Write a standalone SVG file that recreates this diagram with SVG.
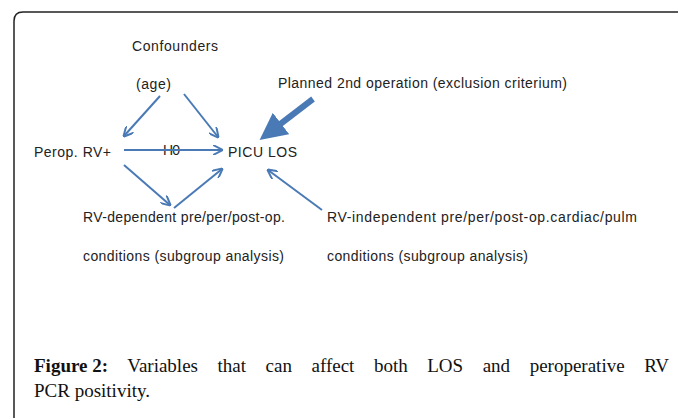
<svg xmlns="http://www.w3.org/2000/svg" width="678" height="418" viewBox="0 0 678 418">
<style>
.t{font-family:"Liberation Sans",Arial,sans-serif;font-size:14px;fill:#222}
.c{font-family:"Liberation Serif","Times New Roman",serif;font-size:19px;fill:#111}
.a{stroke:#4a7ab5;stroke-width:2;fill:none;marker-end:url(#ah)}
</style>
<defs>
<marker id="ah" viewBox="0 0 10 10" refX="9" refY="5" markerWidth="5" markerHeight="5" orient="auto" markerUnits="strokeWidth">
<path d="M0,0 L10,5 L0,10" fill="none" stroke="#4a7ab5" stroke-width="2"/>
</marker>
<marker id="ahT" viewBox="0 0 10 10" refX="7" refY="5" markerWidth="4.5" markerHeight="4.5" orient="auto" markerUnits="strokeWidth">
<path d="M0,0 L10,5 L0,10 Z" fill="#4a7ab5"/>
</marker>
</defs>
<rect width="678" height="418" fill="#fff"/>
<path d="M14,418 L14,21 Q14,12 23,12 L678,12" fill="none" stroke="#222" stroke-width="1.5"/>
<g id="confounders"><text class="t" x="132" y="51" textLength="86">Confounders</text><text class="t" x="136" y="89" textLength="35">(age)</text></g>
<g id="planned"><text class="t" x="278" y="88" textLength="289">Planned 2nd operation (exclusion criterium)</text></g>
<g id="perop"><text class="t" x="34" y="157" textLength="77">Perop. RV+</text></g>
<g id="picu"><text class="t" x="228" y="157" textLength="69">PICU LOS</text></g>
<g id="rvdep"><text class="t" x="83" y="222" textLength="202">RV-dependent pre/per/post-op.</text><text class="t" x="83" y="261" textLength="201">conditions (subgroup analysis)</text></g>
<g id="rvindep"><text class="t" x="327" y="222" textLength="310">RV-independent pre/per/post-op.cardiac/pulm</text><text class="t" x="327" y="261" textLength="201">conditions (subgroup analysis)</text></g>
<g id="h0"><text class="t" x="163" y="155" textLength="17">H0</text></g>
<g id="connectors">
<line class="a" x1="160" y1="96" x2="124" y2="136"/>
<line class="a" x1="184" y1="94" x2="218" y2="137"/>
<line class="a" x1="124" y1="150" x2="222" y2="150"/>
<line x1="313" y1="99" x2="266" y2="135" stroke="#4a7ab5" stroke-width="6" marker-end="url(#ahT)"/>
<line class="a" x1="124" y1="165" x2="170" y2="205"/>
<line class="a" x1="174" y1="208" x2="222" y2="169"/>
<line class="a" x1="322" y1="210" x2="268" y2="170"/>
</g>
<text class="c" x="34" y="372" word-spacing="14.8"><tspan font-weight="bold" word-spacing="0">Figure 2:</tspan> Variables that can affect both LOS and peroperative RV</text>
<text class="c" x="34" y="397">PCR positivity.</text>
</svg>
